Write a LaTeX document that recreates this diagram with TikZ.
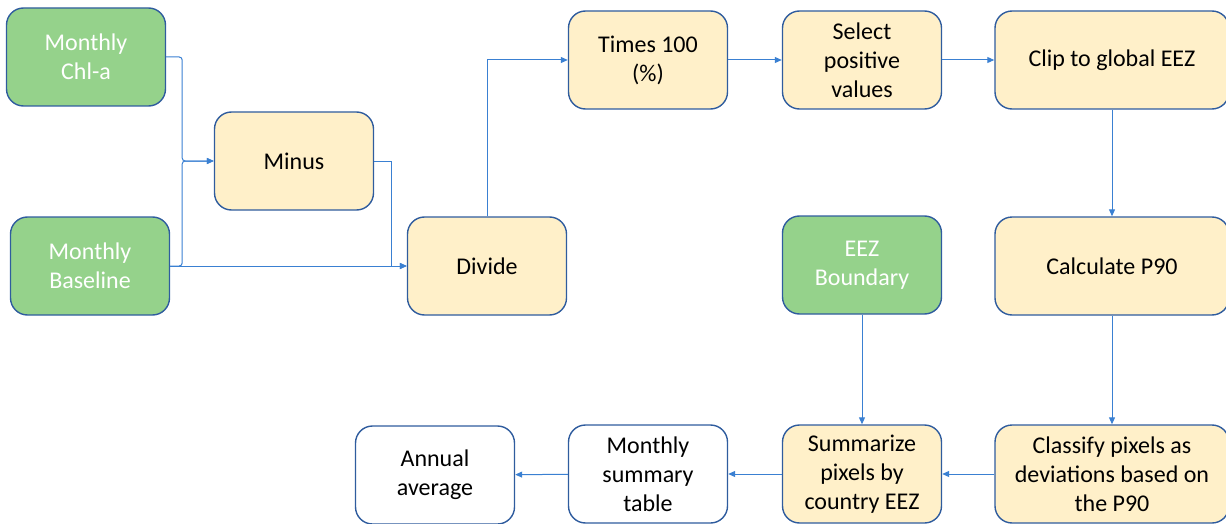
\documentclass[tikz,border=0pt]{standalone}
\usepackage{fontspec}
\setmainfont{Carlito}
\usetikzlibrary{arrows.meta, positioning}

\definecolor{boxline}{HTML}{2F5C9E}
\definecolor{linkblue}{HTML}{3A80D2}
\definecolor{datagreen}{HTML}{95D28B}
\definecolor{stepyellow}{HTML}{FFF0C9}

\begin{document}
\begin{tikzpicture}[x=1pt, y=-1pt, >={Triangle[length=7pt,width=6pt]},
  every node/.style={rectangle, rounded corners=17pt, draw=boxline, line width=1.4pt,
    minimum width=159pt, minimum height=98pt, align=center, font=\fontsize{24}{29}\selectfont},
  data/.style={fill=datagreen, text=white},
  proc/.style={fill=stepyellow, text=black},
  wide/.style={minimum width=234pt},
  outbox/.style={fill=white, text=black},
  link/.style={->, draw=linkblue, line width=1pt}]
\useasboundingbox (0,0) rectangle (1226,524);
% inputs
\node[data] (chl) at (86,57) {Monthly\\Chl-a};
\node[data] (base) at (90,266) {Monthly\\Baseline};
\node[data] (eez) at (862,265) {EEZ\\Boundary};
% processing steps
\node[proc] (minus) at (294,161) {Minus};
\node[proc] (divide) at (487,266) {Divide};
\node[proc] (times) at (648,60) {Times 100\\(\%)};
\node[proc] (select) at (862,60) {Select\\positive\\values};
\node[proc, wide] (clip) at (1112,60) {Clip to global EEZ};
\node[proc, wide] (p90) at (1112,266) {Calculate P90};
\node[proc, wide] (classify) at (1112,474) {Classify pixels as\\deviations based on\\the P90};
\node[proc] (summ) at (862,474) {Summarize\\pixels by\\country EEZ};
% outputs
\node[outbox] (table) at (648,474) {Monthly\\summary\\table};
\node[outbox] (annual) at (435,475) {Annual\\average};

\draw[link, rounded corners=3pt] (chl.east) -- ++(16,0) |- (minus.west);
\draw[link, rounded corners=3pt] (base.east) -- ++(12,0) |- (minus.west);
\draw[link] (base.east) -- (divide.west);
\draw[link] (minus.east) -- ++(17,0) |- (divide.west);
\draw[link] (divide.north) |- (times.west);
\draw[link] (times) -- (select);
\draw[link] (select) -- (clip);
\draw[link] (clip) -- (p90);
\draw[link] (p90) -- (classify);
\draw[link] (eez) -- (summ);
\draw[link] (classify) -- (summ);
\draw[link] (summ) -- (table);
\draw[link] (table) -- (annual);
\end{tikzpicture}
\end{document}
